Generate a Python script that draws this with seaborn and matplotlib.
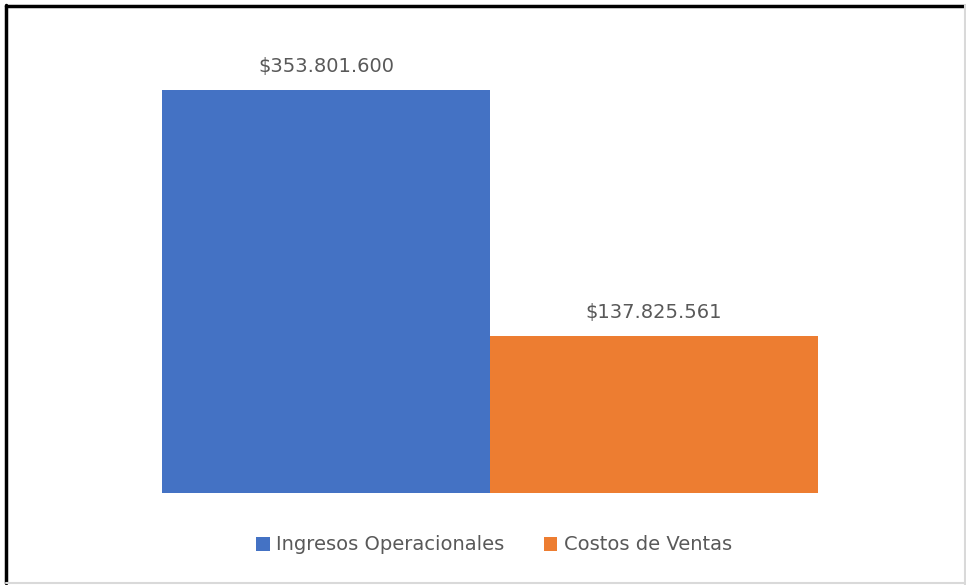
import matplotlib.pyplot as plt
import seaborn as sns
from matplotlib.lines import Line2D

# Data
categorias = ["Ingresos Operacionales", "Costos de Ventas"]
valores = [353801600, 137825561]
colores = ["#4472C4", "#ED7D31"]

sns.set_style("white")
plt.rcParams['font.family'] = ['DejaVu Sans']

fig = plt.figure(figsize=(9.66, 5.85), dpi=100)
W, H = 966, 585
ax = fig.add_axes([162 / W, (H - 493) / H, (818 - 162) / W, (493 - 37.4) / H])

sns.barplot(x=categorias, y=valores, hue=categorias, palette=colores,
            width=1.0, saturation=1, linewidth=0, ax=ax, legend=True)

ax.set_xlim(-0.5, 1.5)
ax.set_ylim(0, 400000000)
ax.set_xticks([])
ax.set_yticks([])
ax.set_xlabel('')
ax.set_ylabel('')
sns.despine(ax=ax, left=True, bottom=True)

# Data labels
for cont in ax.containers:
    ax.bar_label(cont, labels=["$" + f"{v:,.0f}".replace(",", ".") for v in cont.datavalues],
                 padding=10, fontsize=14, color='#595959')

# Legend at the bottom
sns.move_legend(ax, "center", bbox_to_anchor=(494 / W, 1 - 545 / H), bbox_transform=fig.transFigure,
                ncol=2, frameon=False, title=None, fontsize=14, handlelength=0.7,
                handleheight=0.7, handletextpad=0.35, columnspacing=2.0)
for t in ax.get_legend().get_texts():
    t.set_color('#595959')

# Frame around the chart (black on top/left, light gray on right/bottom)
fig.add_artist(Line2D([6 / W, 6 / W], [2 / H, 1 - 5 / H], color='black', lw=2.5, transform=fig.transFigure))
fig.add_artist(Line2D([6 / W, 1], [1 - 5.5 / H, 1 - 5.5 / H], color='black', lw=2.5, transform=fig.transFigure))
fig.add_artist(Line2D([6 / W, 1], [2 / H, 2 / H], color='#d9d9d9', lw=1.5, transform=fig.transFigure))
fig.add_artist(Line2D([1 - 1 / W, 1 - 1 / W], [0, 1 - 5 / H], color='#d9d9d9', lw=1.5, transform=fig.transFigure))

fig.savefig('out.png')
